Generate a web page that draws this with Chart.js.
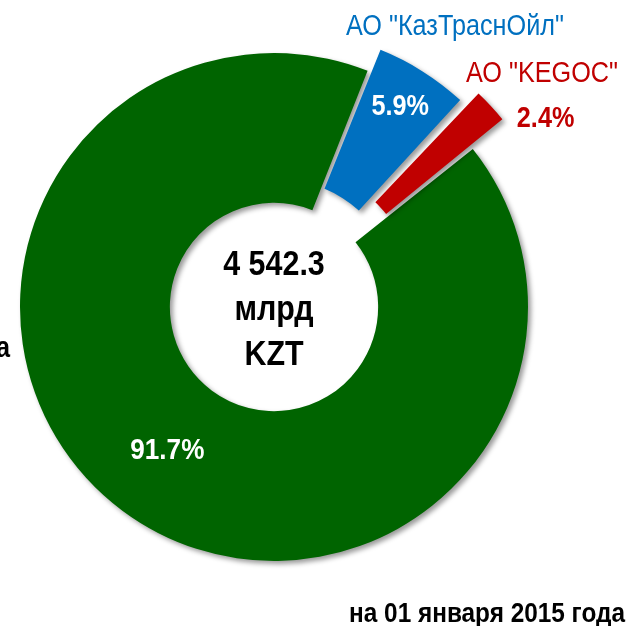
<!DOCTYPE html>
<html>
<head>
<meta charset="utf-8">
<script src="https://cdn.jsdelivr.net/npm/chart.js@4"></script>
<style>
  html, body { margin: 0; padding: 0; background: #fff; }
  canvas { display: block; }
</style>
</head>
<body>
<canvas id="chart" width="627" height="626"></canvas>
<script>
// data
const labels = ['а', 'АО "КазТраснОйл"', 'АО "KEGOC"'];
const shares = [91.7, 5.9, 2.4];
const shareLabels = ['91.7%', '5.9%', '2.4%'];
const totalLines = ['4 542.3', 'млрд', 'KZT'];
const dateNote = 'на 01 января 2015 года';

const colors = {
  green: '#006400',
  blue: '#0070C0',
  red: '#C00000',
  text: '#000',
};
// no narrow font installed, so squeeze Liberation Sans horizontally
const FONT = "'Liberation Sans', Arial, sans-serif";
const SX = 0.87;

// soft drop shadow under every slice
const shadowPlugin = {
  id: 'shadow',
  beforeDatasetDraw(chart) {
    const ctx = chart.ctx;
    ctx.save();
    ctx.shadowColor = 'rgba(0,0,0,0.4)';
    ctx.shadowBlur = 5;
    ctx.shadowOffsetX = 3;
    ctx.shadowOffsetY = 3;
  },
  afterDatasetDraw(chart) {
    chart.ctx.restore();
  }
};

function narrowText(ctx, text, x, y, font, color, align) {
  ctx.save();
  ctx.font = font;
  ctx.fillStyle = color;
  ctx.textAlign = align || 'center';
  ctx.translate(x, y);
  ctx.scale(SX, 1);
  ctx.fillText(text, 0, 0);
  ctx.restore();
}

// percent labels, slice names and centre total
const textPlugin = {
  id: 'texts',
  afterDraw(chart) {
    const ctx = chart.ctx;
    const arcs = chart.getDatasetMeta(0).data;

    // where a slice point ends up after chart.js pulls the slice out
    const at = (i, frac) => {
      const a = arcs[i];
      const mid = (a.startAngle + a.endAngle) / 2;
      const off = (a.options.offset || 0) / 4;
      const fix = 1 - Math.sin(Math.min(Math.PI, a.circumference));
      const shift = off ? off * (1 + fix) : 0;
      const r = a.innerRadius + (a.outerRadius - a.innerRadius) * frac + shift;
      return { x: a.x + Math.cos(mid) * r, y: a.y + Math.sin(mid) * r };
    };

    ctx.save();
    ctx.textBaseline = 'middle';

    let p = at(0, 0.5);
    narrowText(ctx, shareLabels[0], p.x, p.y, 'bold 30px ' + FONT, '#fff');
    p = at(1, 0.72);
    narrowText(ctx, shareLabels[1], p.x, p.y, 'bold 29px ' + FONT, '#fff');
    p = at(2, 1);
    narrowText(ctx, shareLabels[2], p.x + 26, p.y + 13, 'bold 29px ' + FONT, colors.red, 'left');

    ctx.textBaseline = 'alphabetic';
    narrowText(ctx, labels[1], 455, 35, '29px ' + FONT, colors.blue);
    narrowText(ctx, labels[2], 542, 82, '29px ' + FONT, colors.red);
    narrowText(ctx, labels[0], 10, 357, 'bold 29px ' + FONT, colors.text, 'right');

    const cx = arcs[0].x;
    totalLines.forEach((t, i) => narrowText(ctx, t, cx, 275 + i * 45, 'bold 35px ' + FONT, colors.text));

    narrowText(ctx, dateNote, 625, 622, 'bold 28px ' + FONT, colors.text, 'right');
    ctx.restore();
  }
};

new Chart(document.getElementById('chart'), {
  type: 'doughnut',
  data: {
    labels: labels,
    datasets: [{
      data: shares,
      backgroundColor: [colors.green, colors.blue, colors.red],
      borderWidth: 0,
      offset: [0, 60, 90]
    }]
  },
  options: {
    responsive: false,
    animation: false,
    rotation: 51.5,
    radius: 254,
    cutout: '41%',
    layout: { padding: { left: 0, right: 79, top: 0, bottom: 12 } },
    plugins: {
      legend: { display: false },
      tooltip: { enabled: false }
    }
  },
  plugins: [shadowPlugin, textPlugin]
});
</script>
</body>
</html>
